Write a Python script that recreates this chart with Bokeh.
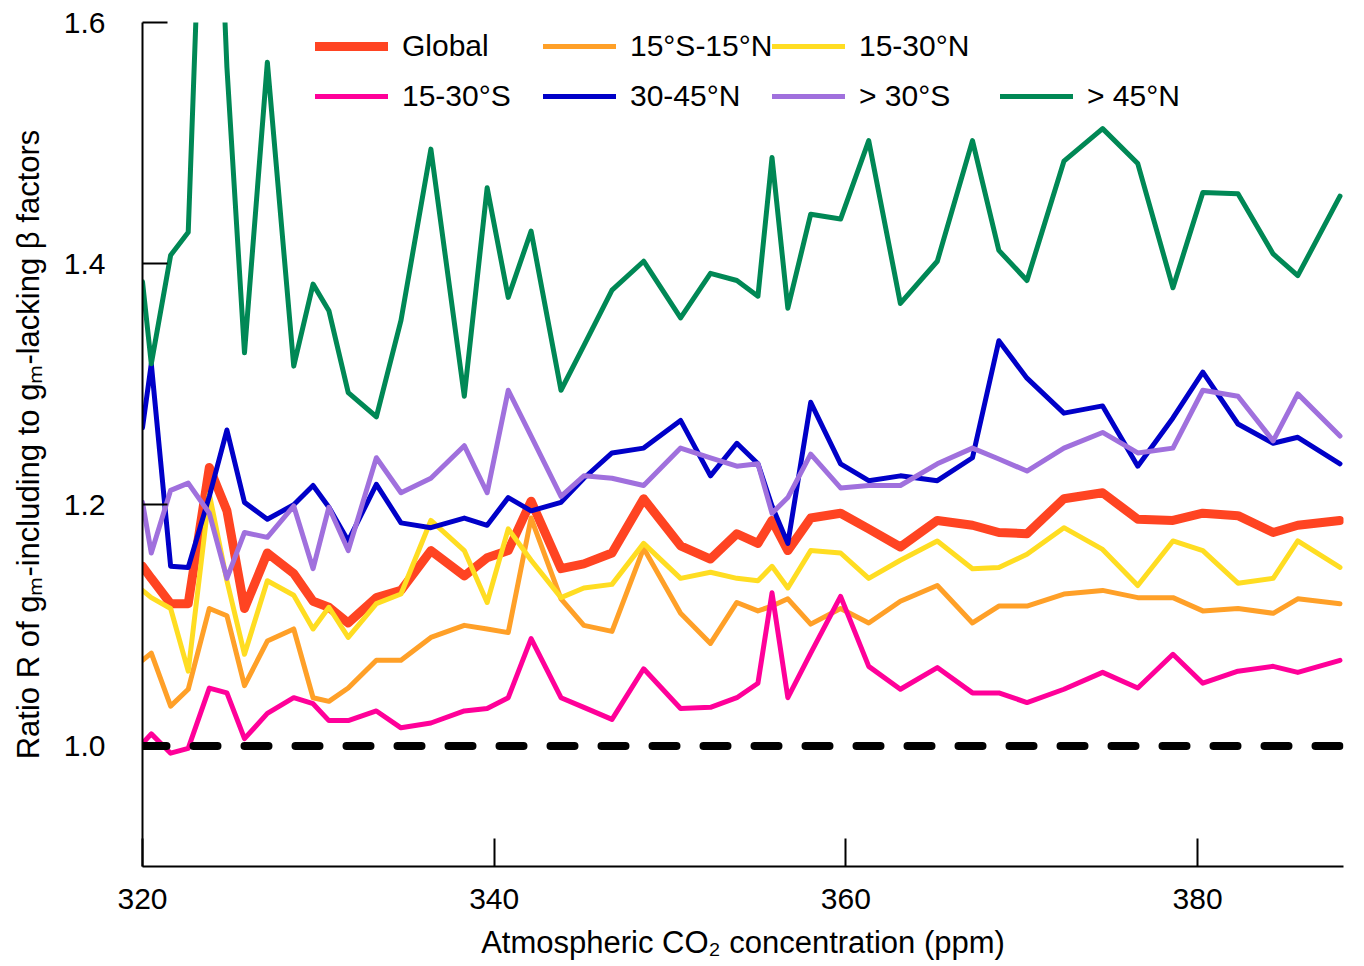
from bokeh.plotting import figure
from bokeh.models import Range1d, FixedTicker, Span, Legend, LegendItem, NumeralTickFormatter
from bokeh.embed import file_html
from bokeh.resources import INLINE

# ---- data ----
co2 = [320.0, 320.5, 321.6, 322.6, 323.8, 324.8, 325.8, 327.1, 328.6, 329.7,
       330.6, 331.7, 333.3, 334.7, 336.4, 338.3, 339.6, 340.8, 342.1, 343.8,
       345.1, 346.7, 348.5, 350.6, 352.3, 353.8, 355.0, 355.8, 356.7, 358.0,
       359.7, 361.3, 363.1, 365.2, 367.2, 368.7, 370.3, 372.4, 374.6, 376.6,
       378.6, 380.3, 382.3, 384.3, 385.7, 388.1]

global_r = [1.149, 1.139, 1.118, 1.118, 1.231, 1.195, 1.114, 1.160, 1.143, 1.120,
            1.115, 1.102, 1.123, 1.129, 1.162, 1.141, 1.156, 1.162, 1.203, 1.147,
            1.151, 1.160, 1.205, 1.166, 1.155, 1.176, 1.168, 1.187, 1.162, 1.189,
            1.193, 1.180, 1.165, 1.187, 1.183, 1.177, 1.176, 1.205, 1.210, 1.188,
            1.187, 1.193, 1.191, 1.177, 1.183, 1.187]

s15_n15 = [1.071, 1.077, 1.033, 1.047, 1.114, 1.108, 1.050, 1.087, 1.097, 1.040,
           1.037, 1.048, 1.071, 1.071, 1.090, 1.100, 1.097, 1.094, 1.189, 1.122,
           1.100, 1.095, 1.164, 1.110, 1.085, 1.119, 1.112, 1.116, 1.122, 1.101,
           1.114, 1.102, 1.120, 1.133, 1.102, 1.116, 1.116, 1.126, 1.129, 1.123,
           1.123, 1.112, 1.114, 1.110, 1.122, 1.118]

n15_30 = [1.129, 1.123, 1.114, 1.062, 1.209, 1.137, 1.076, 1.137, 1.125, 1.097,
          1.115, 1.090, 1.118, 1.126, 1.187, 1.162, 1.119, 1.180, 1.154, 1.123,
          1.131, 1.134, 1.168, 1.139, 1.144, 1.139, 1.137, 1.149, 1.131, 1.162,
          1.160, 1.139, 1.154, 1.170, 1.147, 1.148, 1.159, 1.181, 1.163, 1.133,
          1.170, 1.162, 1.135, 1.139, 1.170, 1.148]

s15_30 = [1.002, 1.010, 0.994, 0.998, 1.048, 1.044, 1.006, 1.027, 1.040, 1.035,
          1.021, 1.021, 1.029, 1.015, 1.019, 1.029, 1.031, 1.040, 1.089, 1.040,
          1.032, 1.022, 1.064, 1.031, 1.032, 1.040, 1.052, 1.127, 1.040, 1.077,
          1.124, 1.066, 1.047, 1.065, 1.044, 1.044, 1.036, 1.047, 1.061, 1.048,
          1.076, 1.052, 1.062, 1.066, 1.061, 1.071]

n30_45 = [1.264, 1.317, 1.149, 1.148, 1.207, 1.262, 1.202, 1.188, 1.200, 1.216,
          1.198, 1.170, 1.217, 1.185, 1.181, 1.189, 1.183, 1.206, 1.195, 1.202,
          1.222, 1.243, 1.247, 1.270, 1.224, 1.251, 1.234, 1.199, 1.168, 1.285,
          1.234, 1.220, 1.224, 1.220, 1.239, 1.336, 1.305, 1.276, 1.282, 1.232,
          1.272, 1.310, 1.267, 1.251, 1.256, 1.234]

s30 = [1.202, 1.160, 1.212, 1.218, 1.193, 1.139, 1.177, 1.173, 1.199, 1.147,
       1.198, 1.162, 1.239, 1.210, 1.222, 1.249, 1.210, 1.295, 1.257, 1.207,
       1.224, 1.222, 1.216, 1.247, 1.239, 1.232, 1.234, 1.193, 1.206, 1.242,
       1.214, 1.216, 1.216, 1.234, 1.247, 1.238, 1.228, 1.247, 1.260, 1.243,
       1.247, 1.295, 1.290, 1.253, 1.292, 1.257]

n45 = [1.385, 1.317, 1.407, 1.426, 1.910, 1.563, 1.326, 1.567, 1.315, 1.383,
       1.361, 1.293, 1.273, 1.353, 1.495, 1.290, 1.463, 1.372, 1.427, 1.295,
       1.332, 1.378, 1.402, 1.355, 1.392, 1.386, 1.373, 1.488, 1.363, 1.441,
       1.437, 1.502, 1.367, 1.402, 1.502, 1.411, 1.386, 1.485, 1.512, 1.483,
       1.380, 1.459, 1.458, 1.408, 1.390, 1.456]

x_ticks = [320, 340, 360, 380]
y_ticks = [1.0, 1.2, 1.4, 1.6]
reference_ratio = 1.0

FONT = "'Liberation Sans', Arial, Helvetica, sans-serif"

p = figure(frame_width=1201, frame_height=844,
           x_range=Range1d(320, 388.3), y_range=Range1d(0.9, 1.6),
           output_backend="svg", toolbar_location=None,
           min_border_left=142, min_border_right=13, min_border_top=22,
           min_border_bottom=10)
p.outline_line_color = None
p.grid.visible = False
p.background_fill_color = "white"
p.border_fill_color = "white"

for ax in (p.xaxis[0], p.yaxis[0]):
    ax.axis_line_width = 2
    ax.axis_line_color = "black"
    ax.major_tick_out = 0
    ax.major_tick_line_width = 2
    ax.major_tick_line_color = "black"
    ax.minor_tick_in = 0
    ax.minor_tick_out = 0
    ax.major_label_text_font = FONT
    ax.major_label_text_font_size = "30px"
    ax.major_label_text_color = "black"
    ax.axis_label_text_font = FONT
    ax.axis_label_text_font_size = "31px"
    ax.axis_label_text_font_style = "normal"
    ax.axis_label_text_color = "black"

p.xaxis.ticker = FixedTicker(ticks=x_ticks)
p.yaxis.ticker = FixedTicker(ticks=y_ticks)
p.xaxis.formatter = NumeralTickFormatter(format="0")
p.yaxis.formatter = NumeralTickFormatter(format="0.0")
p.xaxis.major_tick_in = 28
p.yaxis.major_tick_in = 25
p.xaxis.major_label_standoff = 22
p.yaxis.major_label_standoff = 37
p.xaxis.axis_label_standoff = 13
p.yaxis.axis_label_standoff = 15
p.xaxis.axis_label = "Atmospheric CO\u2082 concentration (ppm)"
p.yaxis.axis_label = "Ratio R of g\u2098-including to g\u2098-lacking \u03b2 factors"

# reference line R = 1
p.add_layout(Span(location=reference_ratio, dimension="width", line_color="black",
                  line_width=8, line_dash="24 27", line_cap="round"))

series = [
    ("Global", global_r, "#FF4422", 9),
    ("15\u00b0S-15\u00b0N", s15_n15, "#FFA028", 5),
    ("15-30\u00b0N", n15_30, "#FFDD22", 5),
    ("15-30\u00b0S", s15_30, "#FF0099", 5),
    ("30-45\u00b0N", n30_45, "#0000C8", 5),
    ("> 30\u00b0S", s30, "#A070DD", 5),
    ("> 45\u00b0N", n45, "#008855", 5),
]
renderers = {}
for name, vals, color, lw in series:
    renderers[name] = p.line(co2, vals, line_color=color, line_width=lw,
                             line_join="round", line_cap="round")

legend_pos = [
    ("Global", 173, 803), ("15\u00b0S-15\u00b0N", 401, 803), ("15-30\u00b0N", 630, 803),
    ("15-30\u00b0S", 173, 753), ("30-45\u00b0N", 401, 753), ("> 30\u00b0S", 630, 753),
    ("> 45\u00b0N", 858, 753),
]
for name, lx, ly in legend_pos:
    leg = Legend(items=[LegendItem(label=name, renderers=[renderers[name]])],
                 location=(lx, ly), orientation="horizontal",
                 border_line_color=None, background_fill_alpha=0,
                 padding=0, margin=0, glyph_width=73, glyph_height=20,
                 label_standoff=14, label_text_font=FONT,
                 label_text_font_size="30px", label_text_color="black")
    p.add_layout(leg)

open("out.html", "w").write(file_html(p, INLINE))
